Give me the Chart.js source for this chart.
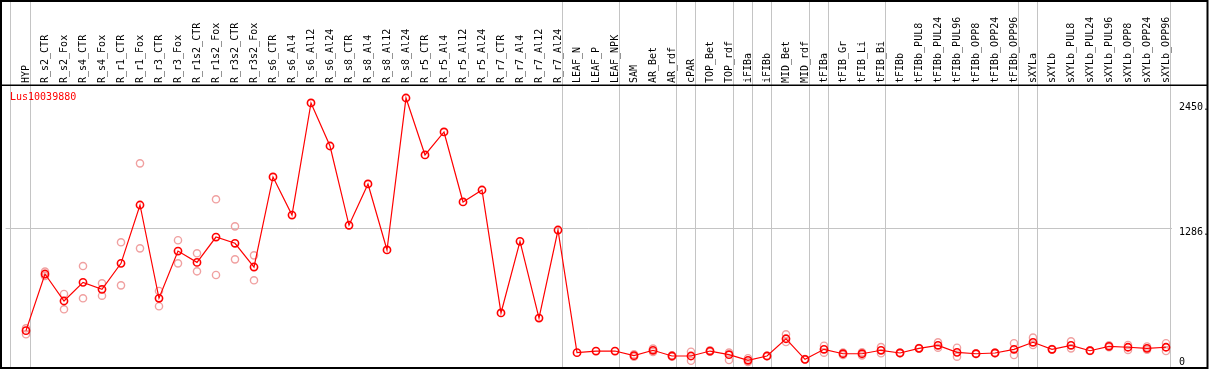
<!DOCTYPE html>
<html><head><meta charset="utf-8">
<script src="https://cdn.jsdelivr.net/npm/chart.js@4/dist/chart.umd.min.js"></script>
<style>html,body{margin:0;padding:0;background:#fff;overflow:hidden}#wrap{width:1209px;height:370px;position:relative}canvas{display:block}</style>
</head><body><div id="wrap"><canvas id="c" width="1209" height="370"></canvas></div>
<script>
const geneName = 'Lus10039880';
const categories = ['HYP','R_s2_CTR','R_s2_Fox','R_s4_CTR','R_s4_Fox','R_r1_CTR','R_r1_Fox','R_r3_CTR','R_r3_Fox','R_r1s2_CTR','R_r1s2_Fox','R_r3s2_CTR','R_r3s2_Fox','R_s6_CTR','R_s6_Al4','R_s6_Al12','R_s6_Al24','R_s8_CTR','R_s8_Al4','R_s8_Al12','R_s8_Al24','R_r5_CTR','R_r5_Al4','R_r5_Al12','R_r5_Al24','R_r7_CTR','R_r7_Al4','R_r7_Al12','R_r7_Al24','LEAF_N','LEAF_P','LEAF_NPK','SAM','AR_Bet','AR_rdf','cPAR','TOP_Bet','TOP_rdf','iFIBa','iFIBb','MID_Bet','MID_rdf','tFIBa','tFIB_Gr','tFIB_Li','tFIB_Bi','tFIBb','tFIBb_PUL8','tFIBb_PUL24','tFIBb_PUL96','tFIBb_OPP8','tFIBb_OPP24','tFIBb_OPP96','sXYLa','sXYLb','sXYLb_PUL8','sXYLb_PUL24','sXYLb_PUL96','sXYLb_OPP8','sXYLb_OPP24','sXYLb_OPP96'];
const meanValues = [337,862,612,785,720,961,1502,637,1075,970,1205,1147,927,1762,1409,2448,2049,1314,1697,1085,2494,1966,2179,1530,1641,501,1165,454,1270,133,148,148,105,155,102,102,148,114,62,102,262,71,164,123,123,155,130,173,201,136,123,130,164,229,164,201,151,192,183,173,183];
const rep1Values = [359,884,677,936,776,1156,1888,705,1175,1054,1555,1304,1035,null,null,null,null,null,null,null,null,null,null,null,null,null,null,null,null,null,null,null,117,170,108,142,155,133,81,104,303,73,197,133,136,185,133,176,229,179,126,133,220,272,167,238,154,201,204,190,220];
const rep2Values = [303,844,535,637,661,757,1100,563,961,887,853,998,804,null,null,null,null,null,null,null,null,null,null,null,null,null,null,null,null,null,null,null,96,139,96,58,141,65,46,100,232,69,133,111,108,127,127,170,179,96,120,127,111,204,161,173,148,183,158,160,148];
const yTickValues = [0, 1286, 2450];
const yTickLabels = ['0', '1286.', '2450.'];
const separatorAfter = [-1.05, 0, 28, 31, 34, 35, 37, 38, 39, 41, 42, 45, 52, 53, 60];

const pts = arr => arr.map((v, i) => ({x: i, y: v}));
const MONO = 'DejaVu Sans Mono';

const framePlugin = {
  id: 'frame',
  afterLayout(chart) {
    // value->pixel mapping: category 0 at x=26, 19px per category; value 0 at y=367
    const xs = chart.scales.x, ys = chart.scales.y;
    xs.min = -(26 - xs.left) / 19;
    xs.max = (xs.right - 26) / 19;
    xs.configure();
    const k = 0.10786;
    ys.min = (367 - ys.bottom) / k;
    ys.max = ys.min + (ys.bottom - ys.top) / k;
    ys.configure();
  },
  beforeDraw(chart) {
    const ctx = chart.ctx, xs = chart.scales.x;
    ctx.save();
    ctx.strokeStyle = '#c4c4c4';
    ctx.lineWidth = 1;
    separatorAfter.forEach(s => {
      const px = Math.round(xs.getPixelForValue(s + 0.21)) + 0.5;
      ctx.beginPath(); ctx.moveTo(px, 0); ctx.lineTo(px, 368); ctx.stroke();
    });
    ctx.restore();
  },
  afterDraw(chart) {
    const ctx = chart.ctx, ys = chart.scales.y;
    ctx.save();
    ctx.strokeStyle = '#000';
    ctx.lineWidth = 2;
    ctx.strokeRect(1, 1, 1206.5, 367);
    ctx.lineWidth = 1.5;
    ctx.beginPath(); ctx.moveTo(0, 85.25); ctx.lineTo(1208, 85.25); ctx.stroke();
    ctx.fillStyle = '#ff0000';
    ctx.font = '10px "' + MONO + '"';
    ctx.textBaseline = 'middle';
    ctx.textAlign = 'left';
    ctx.fillText(geneName, 10, 97.5);
    ctx.fillStyle = '#000';
    yTickValues.forEach((v, i) => {
      const py = Math.min(ys.getPixelForValue(v) + 4.5, 362);
      ctx.fillText(yTickLabels[i], 1179, py);
    });
    ctx.restore();
  }
};

new Chart(document.getElementById('c'), {
  type: 'line',
  data: {
    datasets: [
      {data: pts(meanValues), order: 0, clip: false, showLine: true, borderColor: '#ff0000', borderWidth: 1.2, tension: 0,
       pointRadius: 3.6, pointBorderWidth: 1.6, pointBorderColor: '#ff0000', pointBackgroundColor: 'rgba(0,0,0,0)'},
      {data: pts(rep1Values), order: 1, clip: false, showLine: false, pointRadius: 3.6, pointBorderWidth: 1.4,
       pointBorderColor: 'rgb(240,160,160)', pointBackgroundColor: 'rgba(0,0,0,0)'},
      {data: pts(rep2Values), order: 1, clip: false, showLine: false, pointRadius: 3.6, pointBorderWidth: 1.4,
       pointBorderColor: 'rgb(240,160,160)', pointBackgroundColor: 'rgba(0,0,0,0)'}
    ]
  },
  options: {
    responsive: false, animation: false, devicePixelRatio: 1,
    layout: {padding: {left: 2, right: 2, top: 1, bottom: 3}},
    plugins: {legend: {display: false}, tooltip: {enabled: false}},
    scales: {
      x: {
        type: 'linear', position: 'top', min: -24 / 19, max: (1172 - 26) / 19,
        afterBuildTicks: s => { s.ticks = categories.map((_, i) => ({value: i})); },
        afterFit: s => { s.height = 84; s.paddingLeft = 0; s.paddingRight = 0; },
        grid: {display: false, drawTicks: false}, border: {display: false},
        ticks: {autoSkip: false, maxRotation: 90, minRotation: 90, padding: 2, labelOffset: 12, color: '#000',
          font: {family: MONO, size: 10}, callback: v => categories[v] ?? ''}
      },
      y: {
        position: 'right', min: 0, max: 2614,
        afterBuildTicks: s => { s.ticks = yTickValues.map(v => ({value: v})); },
        afterFit: s => { s.width = 35; s.paddingTop = 0; s.paddingBottom = 0; },
        grid: {drawTicks: false, color: c => (c.tick && c.tick.value === 1286) ? '#c4c4c4' : 'rgba(0,0,0,0)'},
        border: {display: false},
        ticks: {display: false}
      }
    }
  },
  plugins: [framePlugin]
});
</script>
</body></html>
